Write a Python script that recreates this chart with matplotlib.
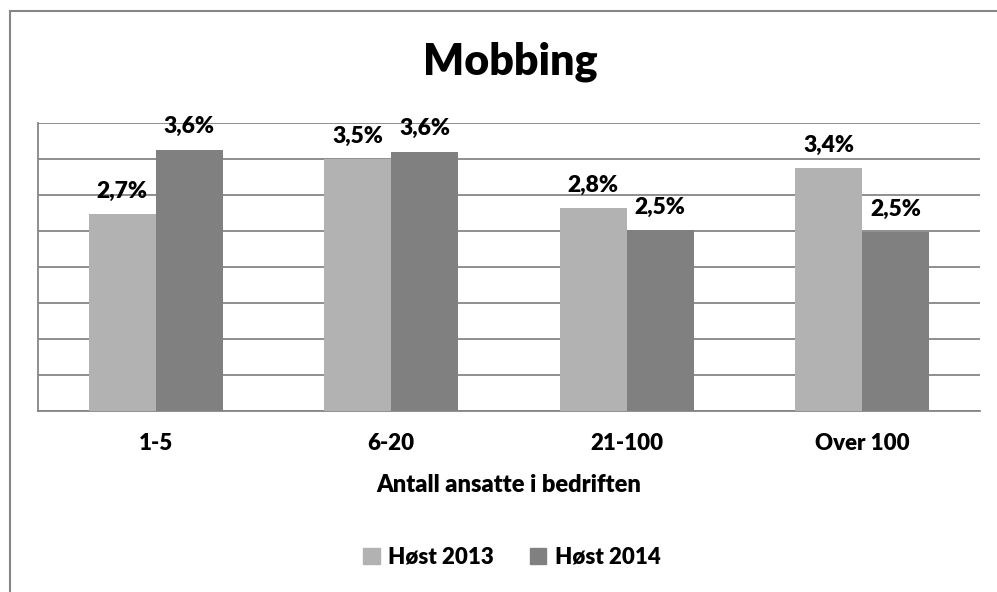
import numpy as np
import matplotlib.pyplot as plt
from matplotlib.lines import Line2D

plt.rcParams['font.family'] = ['Lato', 'DejaVu Sans']
plt.rcParams['font.weight'] = 'heavy'

categories = ['1-5', '6-20', '21-100', 'Over 100']
series_names = ['Høst 2013', 'Høst 2014']
host_2013 = [2.73, 3.50, 2.82, 3.37]
host_2014 = [3.63, 3.60, 2.51, 2.48]
colors = ['#b2b2b2', '#808080']

W, H = 997, 592
fig = plt.figure(figsize=(W / 100, H / 100), dpi=100)
ax = fig.add_axes([38 / W, 1 - 411 / H, (980 - 38) / W, (411 - 123) / H])

x = np.arange(len(categories))
bw = 0.285
b1 = ax.bar(x - bw / 2, host_2013, bw, color=colors[0], label=series_names[0], zorder=3)
b2 = ax.bar(x + bw / 2, host_2014, bw, color=colors[1], label=series_names[1], zorder=3)

for bars, vals in ((b1, host_2013), (b2, host_2014)):
    for r, v in zip(bars, vals):
        ax.annotate(('%.1f%%' % v).replace('.', ','),
                    (r.get_x() + r.get_width() / 2, v),
                    xytext=(0, 9), textcoords='offset points',
                    ha='center', va='bottom', fontsize=16.5, fontweight='heavy')

ax.set_xlim(-0.5, 3.5)
ax.set_ylim(0, 4)
ax.set_yticks(np.arange(0, 4.01, 0.5))
ax.yaxis.grid(True, color='#868686', linewidth=1.3, zorder=0)
ax.set_yticklabels([])
ax.tick_params(axis='y', length=0)
ax.tick_params(axis='x', length=0, pad=16, labelsize=16)
ax.set_xticks(x)
ax.set_xticklabels(categories, fontweight='heavy')
ax.set_xlabel('Antall ansatte i bedriften', fontsize=17, fontweight='heavy', labelpad=14)
for s in ['top', 'right']:
    ax.spines[s].set_visible(False)
for s in ['left', 'bottom']:
    ax.spines[s].set_color('#868686')
    ax.spines[s].set_linewidth(1.3)

fig.text(510 / W, 1 - 62 / H, 'Mobbing', ha='center', va='center',
         fontsize=31, fontweight='heavy')

handles = [plt.Rectangle((0, 0), 1, 1, color=c) for c in colors]
fig.legend(handles, series_names, loc='center', bbox_to_anchor=(512 / W, 1 - 557 / H),
           ncol=2, frameon=False, prop={'size': 16, 'weight': 'heavy'},
           handlelength=0.75, handleheight=0.75, handletextpad=0.4, columnspacing=1.6)

# outer chart border (left and top edges visible)
fig.add_artist(Line2D([10 / W, 10 / W], [0, 1 - 11 / H], color='#868686', linewidth=1.5))
fig.add_artist(Line2D([10 / W, 1.01], [1 - 11 / H, 1 - 11 / H], color='#868686', linewidth=1.5))

fig.savefig('out.png', dpi=100)
